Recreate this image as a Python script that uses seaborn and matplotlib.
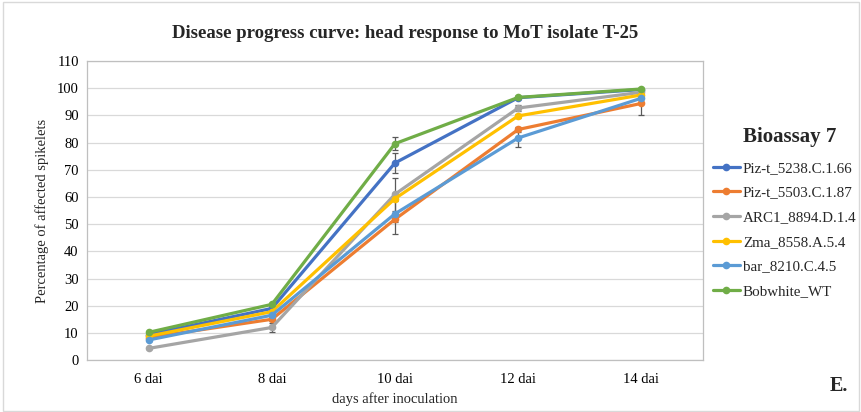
import matplotlib
matplotlib.use("Agg")
import matplotlib.pyplot as plt
import seaborn as sns
import pandas as pd
from matplotlib.patches import Rectangle

# Time points (days after inoculation)
days = ["6 dai", "8 dai", "10 dai", "12 dai", "14 dai"]

# Mean percentage of affected spikelets per line
lines = ["Piz-t_5238.C.1.66", "Piz-t_5503.C.1.87", "ARC1_8894.D.1.4",
         "Zma_8558.A.5.4", "bar_8210.C.4.5", "Bobwhite_WT"]
piz_5238 = [9.4, 19.0, 72.5, 96.5, 99.5]
piz_5503 = [8.3, 15.0, 51.8, 84.8, 94.4]
arc1_8894 = [4.3, 12.0, 61.0, 92.7, 98.5]
zma_8558 = [8.8, 17.8, 59.4, 89.8, 97.5]
bar_8210 = [7.4, 16.5, 53.8, 81.7, 96.3]
bobwhite = [10.2, 20.5, 79.6, 96.6, 99.7]

# Standard errors
err_5238 = [0.3, 0.5, 3.8, 0.5, 0.3]
err_5503 = [0.3, 0.5, 1.0, 1.0, 4.4]
err_arc1 = [0.3, 1.5, 6.0, 1.2, 0.3]
err_zma = [0.3, 0.5, 1.0, 0.8, 0.3]
err_bar = [0.3, 0.5, 7.6, 3.3, 0.3]
err_bob = [0.3, 0.5, 2.5, 0.5, 0.3]

colors = ["#4472C4", "#ED7D31", "#A5A5A5", "#FFC000", "#5B9BD5", "#70AD47"]

means = [piz_5238, piz_5503, arc1_8894, zma_8558, bar_8210, bobwhite]
errs = [err_5238, err_5503, err_arc1, err_zma, err_bar, err_bob]

rows = []
for name, vals, ers in zip(lines, means, errs):
    for d, v, e in zip(days, vals, ers):
        rows.append({"day": d, "line": name, "value": v, "err": e})
df = pd.DataFrame(rows)

sns.set_theme(style="white")
plt.rcParams["font.family"] = ["Liberation Serif", "DejaVu Serif"]

fig = plt.figure(figsize=(8.62, 4.12), dpi=100)
ax = fig.add_axes([0.101, 0.126, 0.7145, 0.726])

# error bars beneath the lines
pos = {d: i for i, d in enumerate(days)}
for name in lines:
    sub = df[df["line"] == name]
    ax.errorbar([pos[d] for d in sub["day"]], sub["value"], yerr=sub["err"],
                fmt="none", ecolor="#595959", elinewidth=0.9, capsize=2.5,
                capthick=0.9, zorder=2)

sns.lineplot(data=df, x="day", y="value", hue="line", hue_order=lines,
             palette=colors, marker="o", markersize=5.5, markeredgewidth=0,
             linewidth=2.3, sort=False, ax=ax, zorder=3)

ax.set_xlim(-0.5, 4.5)
ax.set_ylim(0, 110)
ax.set_yticks(range(0, 111, 10))
ax.grid(axis="y", color="#D9D9D9", linewidth=0.9)
ax.set_axisbelow(True)
for s in ax.spines.values():
    s.set_color("#BFBFBF")
    s.set_linewidth(0.9)
ax.tick_params(axis="both", length=0, labelsize=10.5, colors="#000000")
ax.tick_params(axis="x", pad=9)
ax.tick_params(axis="y", pad=6)

ax.set_xlabel("days after inoculation", fontsize=10.5, labelpad=4.5)
ax.set_ylabel("Percentage of affected spikelets", fontsize=10.5, labelpad=6)

fig.text(0.47, 0.918, "Disease progress curve: head response to MoT isolate T-25",
         ha="center", va="center", fontsize=13.5, fontweight="bold")

leg = fig.legend(*ax.get_legend_handles_labels(), loc="upper left",
                 bbox_to_anchor=(0.827, 0.608), bbox_transform=fig.transFigure,
                 frameon=False, fontsize=10.8, handlelength=1.8,
                 handletextpad=0.2, labelspacing=0.74, borderaxespad=0,
                 borderpad=0)
ax.get_legend().remove()
for h in leg.legend_handles:
    h.set_linewidth(2.3)

fig.text(0.916, 0.667, "Bioassay 7", ha="center", va="center",
         fontsize=15, fontweight="bold")
fig.text(0.973, 0.064, "E.", ha="center", va="center",
         fontsize=14.5, fontweight="bold")

# chart frame
fig.patches.append(Rectangle((0.004, 0.003), 0.992, 0.993, transform=fig.transFigure,
                             fill=False, edgecolor="#D9D9D9", linewidth=1.0))

fig.savefig("out.png", dpi=100)
